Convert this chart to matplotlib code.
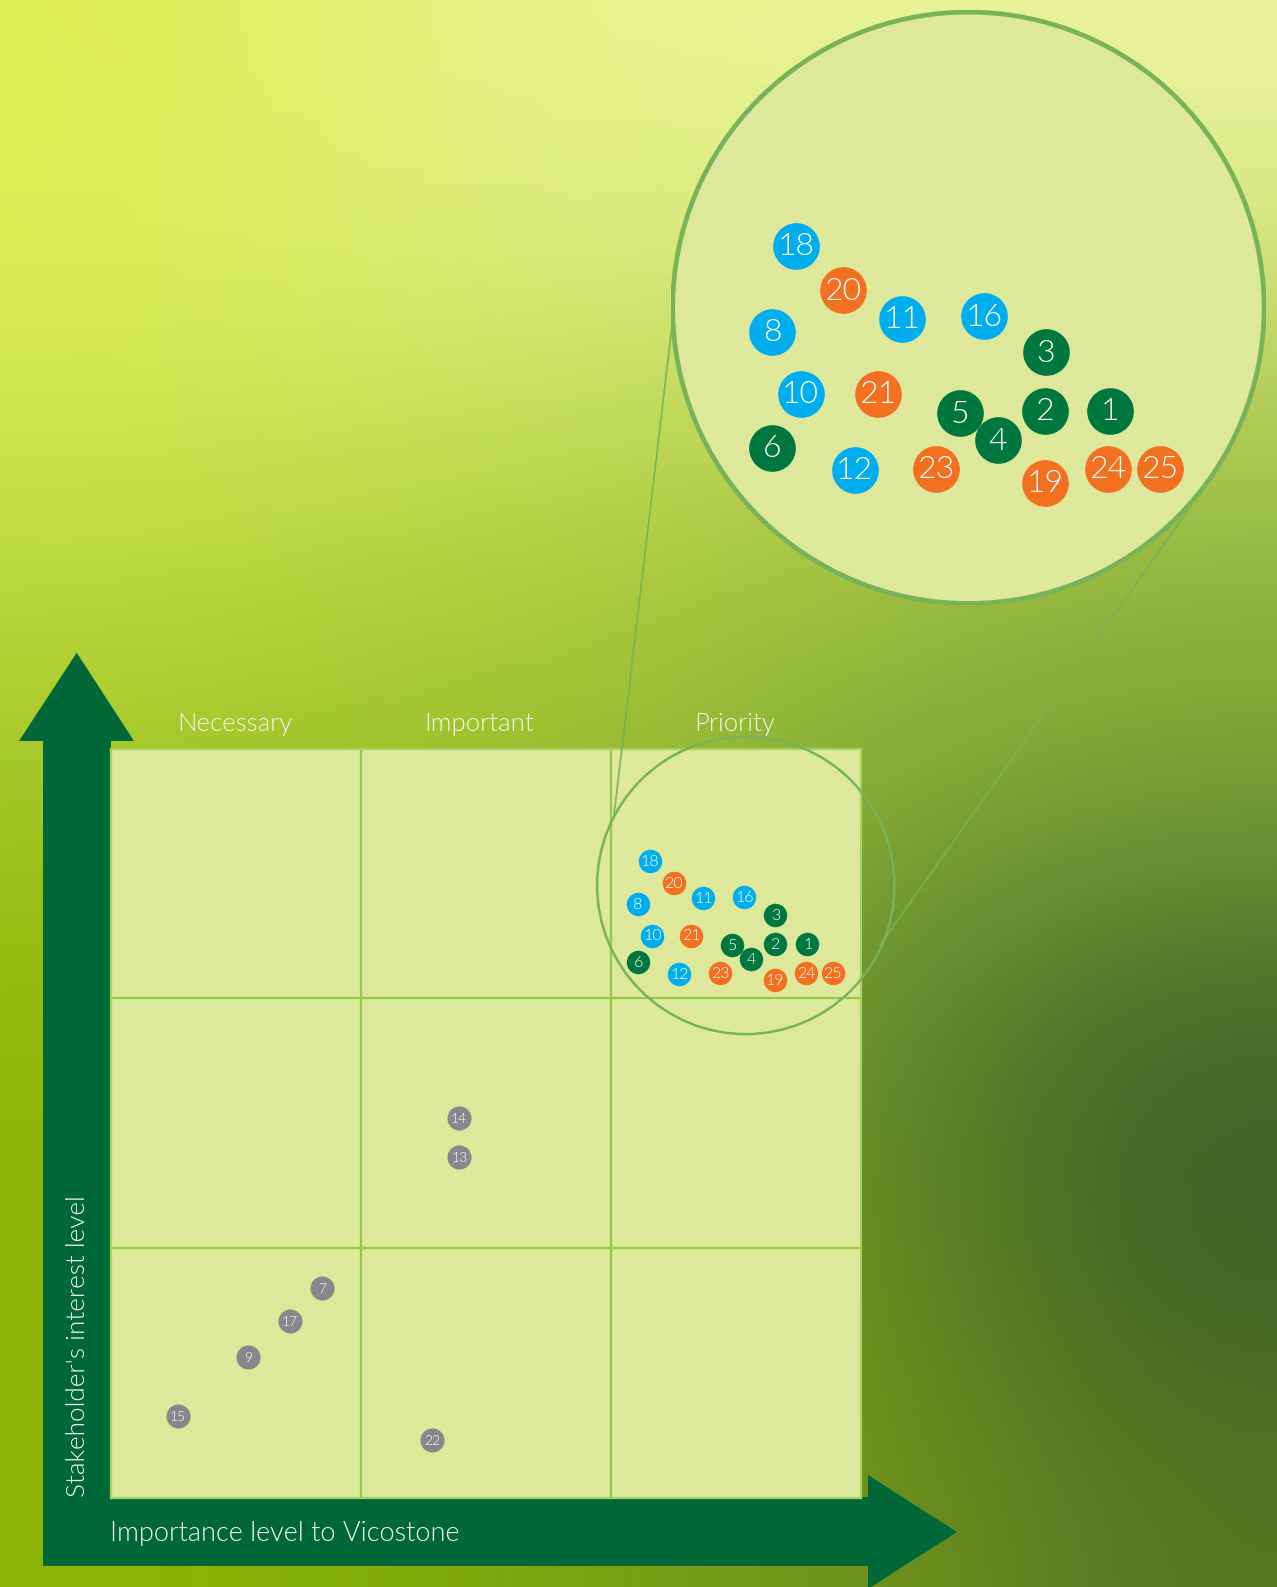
import numpy as np
import matplotlib
matplotlib.use("Agg")
import matplotlib.pyplot as plt
from matplotlib.patches import Circle, Polygon, Rectangle

# ---------------- data ----------------
ids = ["18", "20", "11", "16", "8", "3", "10", "21", "5", "4", "2", "1", "6",
       "12", "23", "19", "24", "25", "14", "13", "7", "17", "9", "15", "22"]
importance = [2.155, 2.250, 2.369, 2.533, 2.108, 2.657, 2.165, 2.320, 2.484, 2.561,
              2.655, 2.785, 2.108, 2.273, 2.436, 2.655, 2.781, 2.886,
              1.393, 1.394, 0.847, 0.717, 0.549, 0.270, 1.284]
interest = [2.549, 2.460, 2.402, 2.407, 2.376, 2.335, 2.251, 2.251, 2.212, 2.158,
            2.217, 2.217, 2.143, 2.098, 2.100, 2.072, 2.100, 2.100,
            1.522, 1.364, 0.840, 0.706, 0.564, 0.328, 0.231]
groups = ["blue", "orange", "blue", "blue", "blue", "green", "blue", "orange", "green", "green",
          "green", "green", "green", "blue", "orange", "orange", "orange", "orange",
          "gray", "gray", "gray", "gray", "gray", "gray", "gray"]
column_labels = ["Necessary", "Important", "Priority"]
x_title = "Importance level to Vicostone"
y_title = "Stakeholder's interest level"

# ---------------- style ----------------
W, H = 1277, 1587
DPI = 100
FONT = ["Lato", "DejaVu Sans"]
WEIGHT = 300
colors = {"blue": "#00AEEF", "orange": "#F37021", "green": "#00773F", "gray": "#87888C"}
ARROW = "#006838"
FILL = "#DDE89A"
GRIDC = "#93C947"
RING = "#78B358"
TXT = "#F4F7E8"

fig = plt.figure(figsize=(W / DPI, H / DPI), dpi=DPI)

# ---------------- background ----------------
bg = fig.add_axes([0, 0, 1, 1], zorder=0)
bg.set_xlim(0, W)
bg.set_ylim(H, 0)
bg.axis("off")
ctrl = np.array([
    [(222, 240, 86), (228, 242, 122), (232, 243, 148), (233, 243, 152), (234, 243, 158)],
    [(214, 235, 84), (212, 233, 105), (206, 228, 108), (198, 222, 104), (192, 216, 100)],
    [(190, 218, 66), (182, 210, 60), (174, 202, 60), (158, 190, 60), (146, 182, 60)],
    [(162, 196, 36), (156, 190, 42), (150, 185, 50), (130, 170, 58), (118, 158, 55)],
    [(145, 185, 10), (140, 180, 22), (128, 168, 38), (98, 138, 48), (64, 104, 42)],
    [(140, 180, 6), (135, 175, 14), (124, 163, 25), (100, 138, 36), (58, 94, 40)],
    [(140, 180, 4), (132, 172, 10), (122, 158, 20), (112, 146, 30), (86, 118, 36)],
], dtype=float) / 255.0
bg.imshow(ctrl, extent=(0, W, H, 0), interpolation="bicubic", aspect="auto", zorder=0)

# arrows
bg.add_patch(Rectangle((42.7, 741), 110.7 - 42.7, 1566 - 741, color=ARROW, lw=0, zorder=2))
bg.add_patch(Polygon([(19, 741), (134, 741), (76.7, 652.7)], closed=True, color=ARROW, lw=0, zorder=2))
bg.add_patch(Rectangle((42.7, 1497), 868 - 42.7, 1566 - 1497, color=ARROW, lw=0, zorder=2))
bg.add_patch(Polygon([(868, 1475), (868, 1589), (957, 1532)], closed=True, color=ARROW, lw=0, zorder=2))

bg.text(110, 1541.5, x_title, color=TXT, fontsize=19.5, family=FONT, fontweight=WEIGHT,
        ha="left", va="baseline", zorder=3)
bg.text(85, 1497, y_title, color=TXT, fontsize=18.8, family=FONT, fontweight=WEIGHT,
        rotation=90, rotation_mode="anchor", ha="left", va="baseline", zorder=3)

# ---------------- main grid ----------------
GL, GR, GT, GB = 110.5, 861.3, 748.5, 1497.5
ax = fig.add_axes([GL / W, 1 - GB / H, (GR - GL) / W, (GB - GT) / H], zorder=1)
ax.set_xlim(0, 3)
ax.set_ylim(0, 3)
ax.set_facecolor(FILL)
for s in ax.spines.values():
    s.set_color("#A6D25E")
    s.set_linewidth(1.6)
ax.set_xticks([])
ax.set_yticks([])
for v in (1, 2):
    ax.axvline(v, color=GRIDC, lw=1.6, zorder=1)
    ax.axhline(v, color=GRIDC, lw=1.6, zorder=1)

label_x = [235, 479, 735]
for lab, lx in zip(column_labels, label_x):
    bg.text(lx, 731, lab, color=TXT, fontsize=18.5, fontweight=WEIGHT,
            family=FONT, ha="center", va="baseline", zorder=3)


def draw_points(a, scale, fs, fs_gray, keep=None, clip=None):
    for k, (lab, xv, yv, g) in enumerate(zip(ids, importance, interest, groups)):
        if keep is not None and not keep(xv, yv):
            continue
        sc = a.scatter([xv], [yv], s=(285 if g != "gray" else 300) * scale ** 2,
                       color=colors[g], lw=0, zorder=5 + k * 0.01)
        if clip is not None:
            sc.set_clip_path(clip)
        a.text(xv, yv - 0.004 / scale, lab, color="white", ha="center", va="center",
               fontsize=(fs if g != "gray" else fs_gray), family=FONT, fontweight=WEIGHT,
               zorder=5 + k * 0.01 + 0.005)


draw_points(ax, 1.0, 11.5, 10)

# ---------------- zoom decoration ----------------
def main_px(x, y):
    return GL + x * (GR - GL) / 3, GB - y * (GB - GT) / 3


def main_data(px, py):
    return (px - GL) / ((GR - GL) / 3), (GB - py) / ((GB - GT) / 3)


MAG = 1.99
OFF = (-497.4, -1467.8)          # big_px = OFF + MAG * small_px
SC_C, SC_R = (745.8, 885.4), 148.7
BC_C, BC_R = (968.4, 307.8), 297.5

ov = fig.add_axes([0, 0, 1, 1], zorder=2)
ov.set_xlim(0, W)
ov.set_ylim(H, 0)
ov.axis("off")
ov.patch.set_alpha(0)
ov.add_patch(Circle(SC_C, SC_R, fill=False, ec=RING, lw=1.8))
ov.plot([614, 672], [815, 326], color=RING, lw=1.3, alpha=0.9)
ov.plot([880, 1191], [945, 506], color=RING, lw=1.3, alpha=0.9)

# inset (magnified)
bx0, bx1 = BC_C[0] - BC_R, BC_C[0] + BC_R
by0, by1 = BC_C[1] - BC_R, BC_C[1] + BC_R
ins = fig.add_axes([bx0 / W, 1 - by1 / H, (bx1 - bx0) / W, (by1 - by0) / H], zorder=3)
ins.axis("off")
ins.patch.set_alpha(0)
xl0, yt = main_data((bx0 - OFF[0]) / MAG, (by0 - OFF[1]) / MAG)
xl1, yb = main_data((bx1 - OFF[0]) / MAG, (by1 - OFF[1]) / MAG)
ins.set_xlim(xl0, xl1)
ins.set_ylim(yb, yt)
disk = Circle((0.5, 0.5), 0.5, transform=ins.transAxes, fc=FILL, ec="none", zorder=1)
ins.add_patch(disk)
ring = Circle((0.5, 0.5), 0.5 - 0.003, transform=ins.transAxes, fill=False, ec=RING, lw=3.4, zorder=10)
ins.add_patch(ring)


def inside_big(xv, yv):
    px, py = main_px(xv, yv)
    bx, by = OFF[0] + MAG * px, OFF[1] + MAG * py
    return (bx - BC_C[0]) ** 2 + (by - BC_C[1]) ** 2 < (BC_R - 20) ** 2


draw_points(ins, MAG, 23, 20, keep=inside_big, clip=disk)

fig.savefig("out.png", dpi=DPI)
